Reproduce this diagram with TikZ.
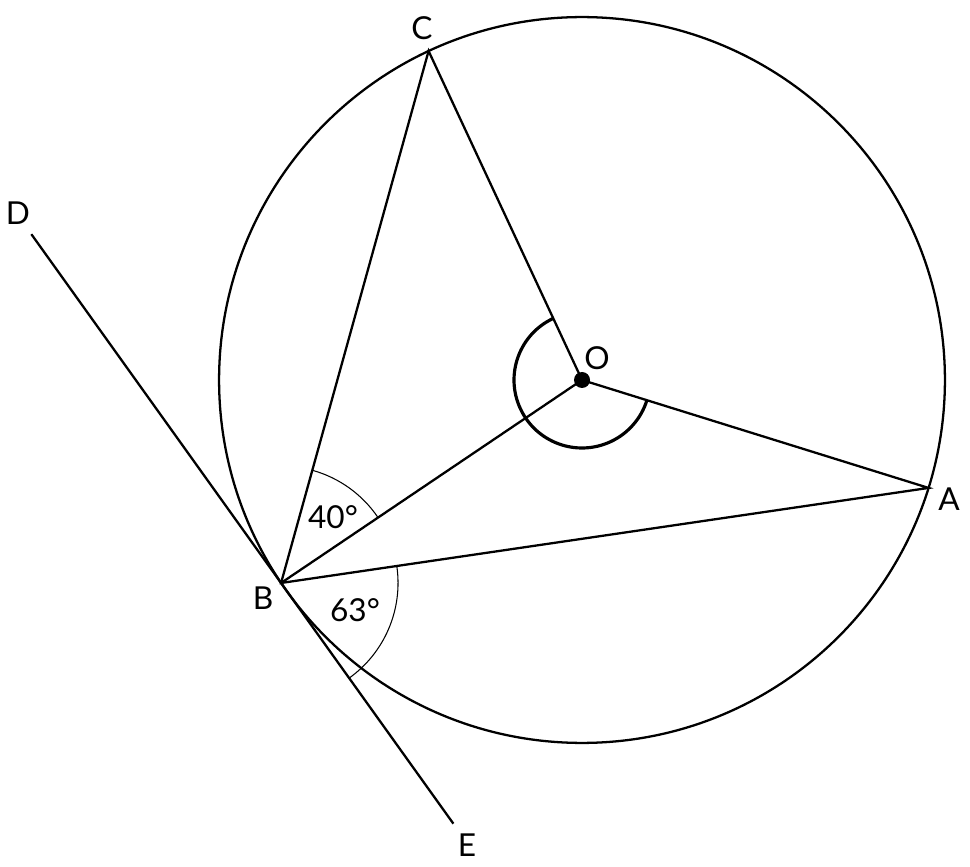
\documentclass[tikz,border=0pt]{standalone}
\usepackage{fontspec}
\setmainfont{Lato}
\usetikzlibrary{calc,angles}

\begin{document}
\begin{tikzpicture}[
		x=0.02cm, y=0.02cm, line width=1.3pt,
		lbl/.style={font=\fontsize{18}{21}\selectfont, inner sep=0pt},
		thinarc/.style={draw, line width=0.6pt, angle radius=2.34cm}
	]
	\useasboundingbox (0,0) rectangle (970,866);
	\coordinate (O) at (582,486);
	\path (O) ++(214:363) coordinate (B)
		(O) ++(115:363) coordinate (C)
		(O) ++(-17.3:363) coordinate (A);
	\path (B) ++(125.6:429) coordinate (D)
		(B) ++(-54.4:296) coordinate (E);
	% circle and chords
	\draw[line width=1.3pt] (O) circle[radius=7.26cm];
	\draw (B) -- (C) -- (O) -- (A) -- cycle;
	\draw (B) -- (O);
	\draw (D) -- (E);
	% angle marks
	\pic[thinarc] {angle=O--B--C};
	\pic[thinarc] {angle=E--B--A};
	\pic[draw, line width=1.8pt, angle radius=1.36cm] {angle=C--O--A};
	\fill (O) circle[radius=0.16cm];
	% labels
	\node[lbl] (labC) at (422,838) {C};
	\node[lbl] (labO) at (597,508) {O};
	\node[lbl] (labA) at (949,367) {A};
	\node[lbl] (labB) at (263,268) {B};
	\node[lbl] (labD) at (18,653) {D};
	\node[lbl] (labE) at (467,21) {E};
	\node[lbl] (ang40) at (333,349) {40°};
	\node[lbl] (ang63) at (355,256) {63°};
\end{tikzpicture}
\end{document}
